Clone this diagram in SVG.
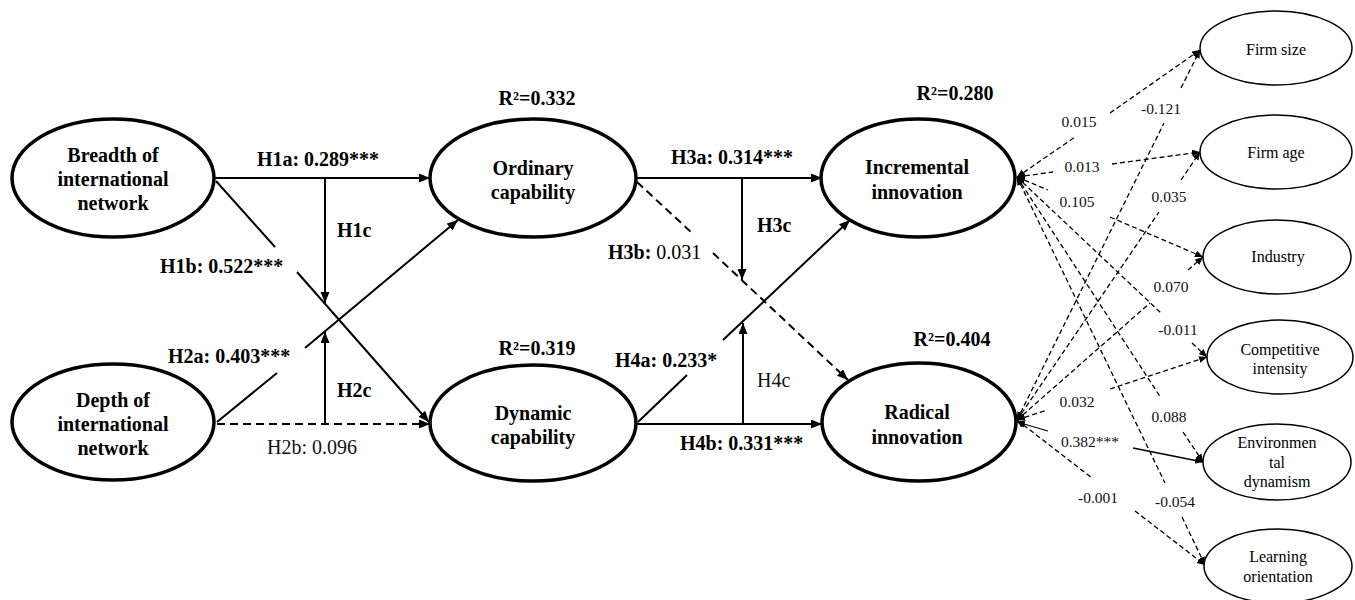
<svg xmlns="http://www.w3.org/2000/svg" width="1355" height="600" viewBox="0 0 1355 600">
<style>
text{font-family:'Liberation Serif','DejaVu Serif Condensed','DejaVu Serif',serif}
.main{fill:#fff;stroke:#000;stroke-width:3.5}
.ctl{fill:#fff;stroke:#000;stroke-width:1.5}
.nt{font-size:20px;font-weight:bold;text-anchor:middle;fill:#000}
.ct{font-size:16px;text-anchor:middle;fill:#000}
.lb{font-size:20px;font-weight:bold;fill:#000}
.lr{font-size:20px;fill:#111}
.cl{font-size:15.5px;text-anchor:middle;fill:#111}
.p{fill:none;stroke:#000;stroke-width:2}
.pd{fill:none;stroke:#000;stroke-width:2;stroke-dasharray:8 5}
.c{fill:none;stroke:#000;stroke-width:1.3;stroke-dasharray:5 3}
.cs{fill:none;stroke:#000;stroke-width:1.3}
</style>
<defs>
<marker id="a" markerUnits="userSpaceOnUse" markerWidth="12" markerHeight="10" refX="11" refY="4.5" orient="auto"><path d="M0,0 L11,4.5 L0,9 z" fill="#000"/></marker>
<marker id="s" markerUnits="userSpaceOnUse" markerWidth="9" markerHeight="8" refX="8" refY="3.5" orient="auto-start-reverse"><path d="M0,0 L8,3.5 L0,7 z" fill="#000"/></marker>
</defs>

<g id="connectors">
<path class="p" d="M215,178 L430,178" marker-end="url(#a)"/>
<path class="p" d="M325,178 L325,303" marker-end="url(#a)"/>
<path class="p" d="M216,181 L275,247 M297,272 L429,422" marker-end="url(#a)"/>
<path class="p" d="M217,422 L277,373 M305,348 L458,220" marker-end="url(#a)"/>
<path class="pd" d="M217,424 L430,424" marker-end="url(#a)"/>
<path class="p" d="M325,424 L325,332" marker-end="url(#a)"/>
<path class="p" d="M637,178 L822,178" marker-end="url(#a)"/>
<path class="p" d="M742,178 L742,280" marker-end="url(#a)"/>
<path class="pd" d="M637,182 L692,233 M713,253 L848,380" marker-end="url(#a)"/>
<path class="p" d="M638,422 L687,375 M723,340 L850,220" marker-end="url(#a)"/>
<path class="p" d="M637,424 L822,424" marker-end="url(#a)"/>
<path class="p" d="M743,424 L743,323" marker-end="url(#a)"/>

<path class="c" d="M1017,177 L1075,137 M1110,113 L1200,50" marker-start="url(#s)" marker-end="url(#s)"/>
<path class="c" d="M1017,420 L1164,123 M1181,88 L1200,50" marker-start="url(#s)" marker-end="url(#s)"/>
<path class="c" d="M1017,177 L1053,172 M1112,164 L1200,152" marker-start="url(#s)" marker-end="url(#s)"/>
<path class="c" d="M1017,420 L1159,212 M1181,180 L1200,152" marker-start="url(#s)" marker-end="url(#s)"/>
<path class="c" d="M1017,177 L1048,190 M1110,217 L1203,257" marker-start="url(#s)" marker-end="url(#s)"/>
<path class="c" d="M1017,420 L1150,303 M1188,270 L1203,257" marker-start="url(#s)" marker-end="url(#s)"/>
<path class="c" d="M1017,177 L1162,314 M1192,343 L1207,357" marker-start="url(#s)" marker-end="url(#s)"/>
<path class="c" d="M1017,420 L1047,410 M1110,389 L1207,357" marker-start="url(#s)" marker-end="url(#s)"/>
<path class="c" d="M1017,177 L1161,398 M1183,432 L1203,462" marker-start="url(#s)" marker-end="url(#s)"/>
<path class="cs" d="M1017,422 L1048,431 M1133,448 L1203,462" marker-start="url(#s)" marker-end="url(#s)"/>
<path class="c" d="M1017,177 L1165,483 M1182,517 L1205,565" marker-start="url(#s)" marker-end="url(#s)"/>
<path class="c" d="M1017,420 L1092,478 M1135,511 L1205,565" marker-start="url(#s)" marker-end="url(#s)"/>
</g>

<g id="labels">
<text class="lb" x="318" y="166" text-anchor="middle">H1a: 0.289***</text>
<text class="lb" x="337" y="237">H1c</text>
<text class="lb" x="160" y="273">H1b: 0.522***</text>
<text class="lb" x="168" y="363">H2a: 0.403***</text>
<text class="lb" x="337" y="397">H2c</text>
<text class="lr" x="267" y="454">H2b: 0.096</text>
<text class="lb" x="732" y="164" text-anchor="middle">H3a: 0.314***</text>
<text class="lb" x="757" y="232">H3c</text>
<text class="lb" x="608" y="259">H3b: <tspan font-weight="normal">0.031</tspan></text>
<text class="lb" x="615" y="367">H4a: 0.233*</text>
<text class="lr" x="757" y="387">H4c</text>
<text class="lb" x="680" y="450">H4b: 0.331***</text>
<text class="nt" x="537" y="105">R²=0.332</text>
<text class="nt" x="537" y="355">R²=0.319</text>
<text class="nt" x="955" y="100">R²=0.280</text>
<text class="nt" x="952" y="346">R²=0.404</text>
<text class="cl" x="1079" y="127">0.015</text>
<text class="cl" x="1161" y="114">-0.121</text>
<text class="cl" x="1082" y="172">0.013</text>
<text class="cl" x="1077" y="207">0.105</text>
<text class="cl" x="1169" y="202">0.035</text>
<text class="cl" x="1171" y="292">0.070</text>
<text class="cl" x="1178" y="335">-0.011</text>
<text class="cl" x="1077" y="407">0.032</text>
<text class="cl" x="1169" y="422">0.088</text>
<text class="cl" x="1090" y="447">0.382***</text>
<text class="cl" x="1098" y="503">-0.001</text>
<text class="cl" x="1175" y="507">-0.054</text>
</g>

<g id="breadth"><ellipse class="main" cx="113" cy="178" rx="101" ry="59"/>
<text class="nt" x="113" y="162">Breadth of</text><text class="nt" x="113" y="186">international</text><text class="nt" x="113" y="210">network</text></g>
<g id="depth"><ellipse class="main" cx="113" cy="422" rx="101" ry="58"/>
<text class="nt" x="113" y="407">Depth of</text><text class="nt" x="113" y="431">international</text><text class="nt" x="113" y="455">network</text></g>
<g id="ordinary"><ellipse class="main" cx="533" cy="178" rx="103" ry="59"/>
<text class="nt" x="533" y="175">Ordinary</text><text class="nt" x="533" y="199">capability</text></g>
<g id="dynamic"><ellipse class="main" cx="533" cy="423" rx="103" ry="58"/>
<text class="nt" x="533" y="420">Dynamic</text><text class="nt" x="533" y="444">capability</text></g>
<g id="incremental"><ellipse class="main" cx="918" cy="178" rx="97" ry="59"/>
<text class="nt" x="917" y="174">Incremental</text><text class="nt" x="917" y="199">innovation</text></g>
<g id="radical"><ellipse class="main" cx="919" cy="422" rx="97" ry="59"/>
<text class="nt" x="917" y="419">Radical</text><text class="nt" x="917" y="444">innovation</text></g>

<g id="firmsize"><ellipse class="ctl" cx="1276" cy="48" rx="76" ry="37"/><text class="ct" x="1276" y="55">Firm size</text></g>
<g id="firmage"><ellipse class="ctl" cx="1276" cy="152" rx="76" ry="37"/><text class="ct" x="1276" y="158">Firm age</text></g>
<g id="industry"><ellipse class="ctl" cx="1277" cy="257" rx="74" ry="37"/><text class="ct" x="1278" y="262">Industry</text></g>
<g id="competitive"><ellipse class="ctl" cx="1280" cy="357" rx="73" ry="37"/><text class="ct" x="1280" y="355">Competitive</text><text class="ct" x="1280" y="374">intensity</text></g>
<g id="envdyn"><ellipse class="ctl" cx="1277" cy="462" rx="74" ry="38"/><text class="ct" x="1277" y="448">Environmen</text><text class="ct" x="1277" y="468">tal</text><text class="ct" x="1277" y="487">dynamism</text></g>
<g id="learning"><ellipse class="ctl" cx="1278" cy="566" rx="74" ry="37"/><text class="ct" x="1278" y="562">Learning</text><text class="ct" x="1278" y="582">orientation</text></g>
</svg>
